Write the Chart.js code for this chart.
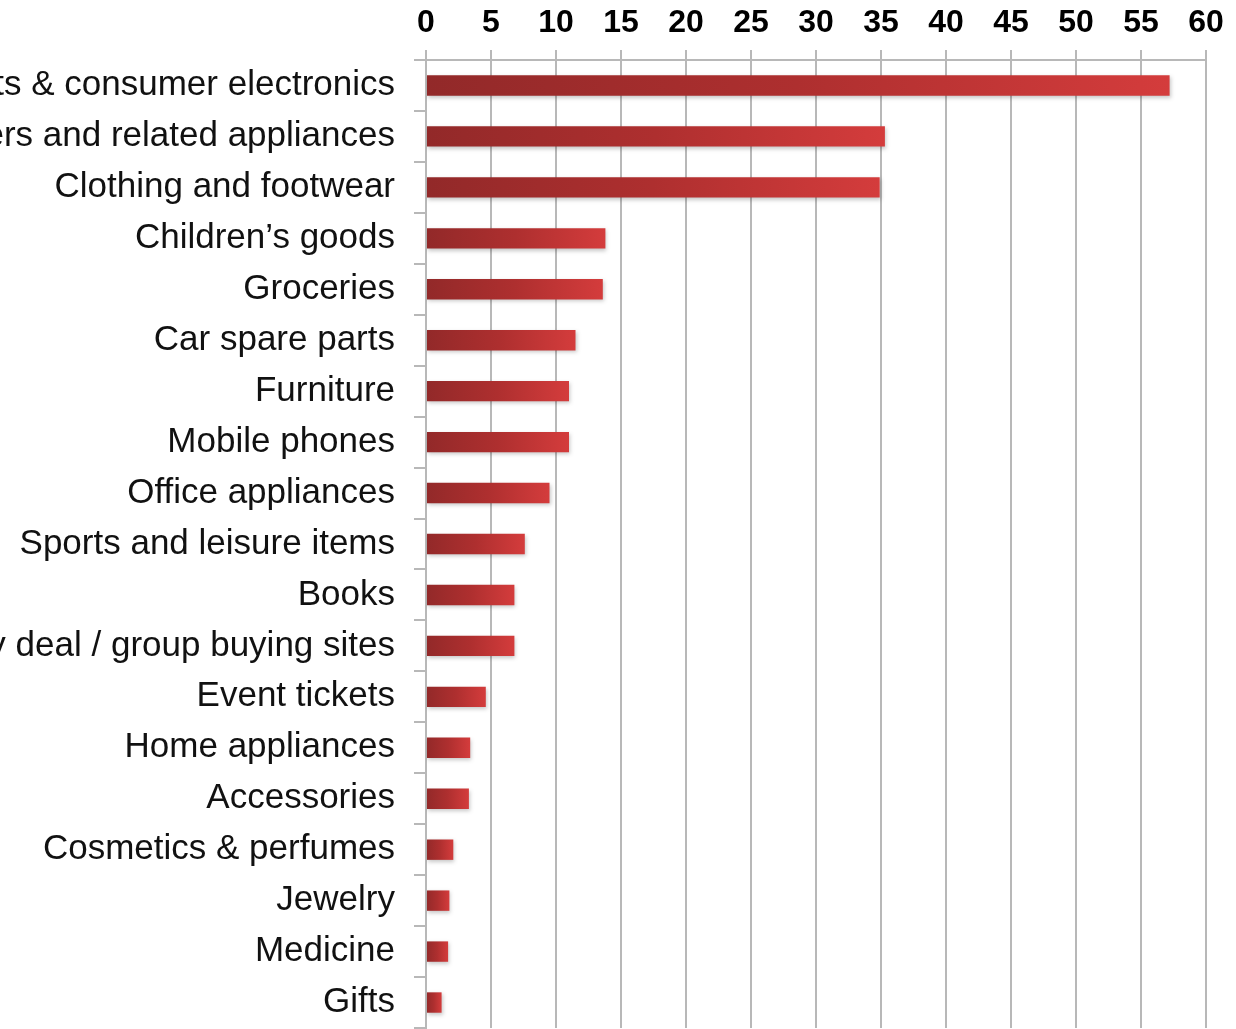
<!DOCTYPE html>
<html>
<head>
<meta charset="utf-8">
<script src="https://cdn.jsdelivr.net/npm/chart.js@4/dist/chart.umd.min.js"></script>
<style>
  html, body { margin: 0; padding: 0; background: #fff; overflow: hidden; }
  #wrap { position: relative; width: 1236px; height: 1029px; }
</style>
</head>
<body>
<div id="wrap"><canvas id="shopChart"></canvas></div>
<script>
// product categories bought online, share of respondents (%)
const categories = [
  "Gadgets & consumer electronics",
  "Computers and related appliances",
  "Clothing and footwear",
  "Children\u2019s goods",
  "Groceries",
  "Car spare parts",
  "Furniture",
  "Mobile phones",
  "Office appliances",
  "Sports and leisure items",
  "Books",
  "Daily deal / group buying sites",
  "Event tickets",
  "Home appliances",
  "Accessories",
  "Cosmetics & perfumes",
  "Jewelry",
  "Medicine",
  "Gifts"
];
const shares = [57.2, 35.3, 34.9, 13.8, 13.6, 11.5, 11.0, 11.0, 9.5, 7.6, 6.8, 6.8, 4.6, 3.4, 3.3, 2.1, 1.8, 1.7, 1.2];
const axisMin = 0;
const axisMax = 60;
const axisStep = 5;

const gridGray = '#b8b8b8';

// dark-to-light red along each bar
let barFill = function (context) {
  const chart = context.chart;
  const xScale = chart.scales.x;
  if (!chart.chartArea || !xScale) return '#b83434';
  const v = shares[context.dataIndex];
  const x0 = xScale.getPixelForValue(0);
  const x1 = xScale.getPixelForValue(v);
  const g = chart.ctx.createLinearGradient(x0, 0, Math.max(x1, x0 + 1), 0);
  g.addColorStop(0, '#922929');
  g.addColorStop(0.5, '#ae2f2f');
  g.addColorStop(1, '#d43c3c');
  return g;
};

// soft drop shadow under the bars
const barShadow = {
  id: 'barShadow',
  beforeDatasetsDraw(chart) {
    const ctx = chart.ctx;
    ctx.save();
    ctx.shadowColor = 'rgba(0,0,0,0.22)';
    ctx.shadowBlur = 4;
    ctx.shadowOffsetX = 1;
    ctx.shadowOffsetY = 2;
  },
  afterDatasetsDraw(chart) {
    chart.ctx.restore();
  }
};

const config = {
  type: 'bar',
  data: {
    labels: categories,
    datasets: [{
      data: shares,
      backgroundColor: barFill,
      borderWidth: 0,
      barPercentage: 0.4,
      categoryPercentage: 1
    }]
  },
  options: {
    indexAxis: 'y',
    responsive: true,
    maintainAspectRatio: false,
    animation: false,
    layout: { padding: { left: 0, right: 30, top: 0, bottom: 1 } },
    plugins: {
      legend: { display: false },
      tooltip: { enabled: false }
    },
    scales: {
      x: {
        position: 'top',
        min: axisMin,
        max: axisMax,
        afterFit(scale) { scale.height = 60; },
        ticks: {
          stepSize: axisStep,
          padding: 8,
          color: '#000',
          font: { family: '"Liberation Sans", Arial, sans-serif', size: 32, weight: 'bold' }
        },
        grid: {
          color: gridGray,
          lineWidth: 2,
          tickLength: 10,
          tickColor: gridGray
        },
        border: { color: gridGray, width: 2 }
      },
      y: {
        afterFit(scale) {
          scale.width = 426;
          scale.paddingTop = 0;
          scale.paddingBottom = 0;
        },
        ticks: {
          padding: 19,
          color: '#111',
          autoSkip: false,
          font: { family: '"Liberation Sans", Arial, sans-serif', size: 35 }
        },
        grid: {
          drawOnChartArea: false,
          tickLength: 12,
          color: gridGray,
          lineWidth: 2
        },
        border: { color: gridGray, width: 2 }
      }
    }
  },
  plugins: [barShadow]
};

let shopChart = new Chart(document.getElementById('shopChart'), config);
</script>
</body>
</html>
